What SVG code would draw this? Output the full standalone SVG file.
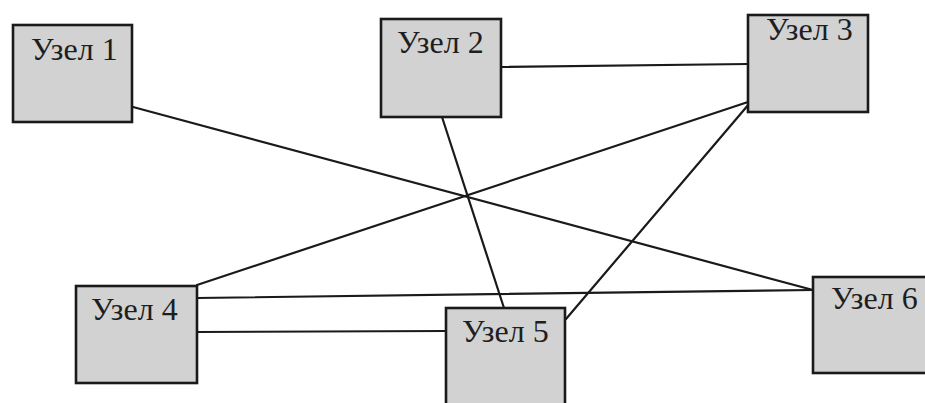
<svg xmlns="http://www.w3.org/2000/svg" width="925" height="403" viewBox="0 0 925 403">
<style>
.node rect{fill:#d2d2d2;stroke:#1a1a1a;stroke-width:2.6}
.node text{font-family:"Liberation Serif","Times New Roman",serif;font-size:32px;fill:#1e1e1e}
#edges line{stroke:#1a1a1a;stroke-width:2.2;stroke-linecap:round}
</style>
<rect width="925" height="403" fill="#ffffff"/>
<g id="edges">
<line x1="501" y1="67" x2="748" y2="64"/>
<line x1="133" y1="107" x2="813" y2="290"/>
<line x1="442" y1="117" x2="504" y2="308"/>
<line x1="748" y1="102" x2="197" y2="285"/>
<line x1="749" y1="104" x2="566" y2="319"/>
<line x1="197" y1="298" x2="813" y2="290"/>
<line x1="197" y1="332" x2="446" y2="331"/>
</g>
<g id="node1" class="node"><rect x="13" y="25" width="119" height="97"/><text x="31" y="60">Узел 1</text></g>
<g id="node2" class="node"><rect x="381" y="19" width="120" height="98"/><text x="397" y="53">Узел 2</text></g>
<g id="node3" class="node"><rect x="748" y="15" width="120" height="97"/><text x="766" y="40">Узел 3</text></g>
<g id="node4" class="node"><rect x="76" y="286" width="121" height="97"/><text x="91" y="320">Узел 4</text></g>
<g id="node5" class="node"><rect x="446" y="308" width="119" height="110"/><text x="462" y="342">Узел 5</text></g>
<g id="node6" class="node"><rect x="813" y="277" width="125" height="96"/><text x="831" y="309">Узел 6</text></g>
</svg>
